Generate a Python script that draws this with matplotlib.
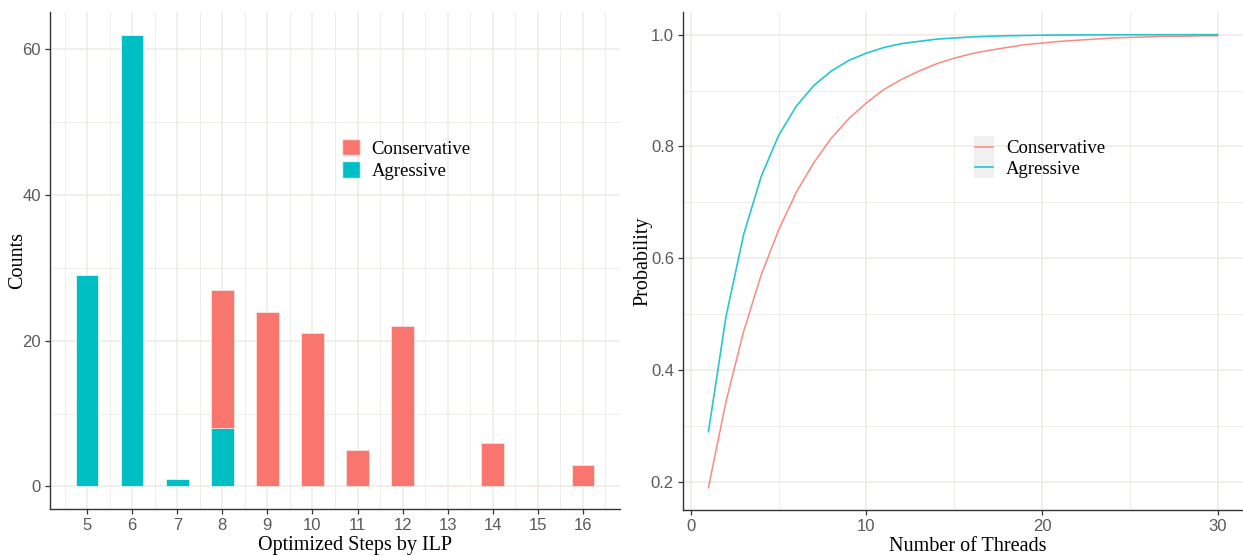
import matplotlib
matplotlib.use("Agg")
import matplotlib.pyplot as plt
from matplotlib.patches import Patch, Rectangle
from matplotlib.lines import Line2D
from matplotlib.legend_handler import HandlerLine2D
from matplotlib.ticker import MultipleLocator, FixedLocator, FormatStrFormatter

# ---- Data (left: bar counts) ----
steps = [5, 6, 7, 8, 9, 10, 11, 12, 13, 14, 15, 16]
agressive_counts = [29, 62, 1, 8, 0, 0, 0, 0, 0, 0, 0, 0]
conservative_counts = [0, 0, 0, 19, 24, 21, 5, 22, 0, 6, 0, 3]

# ---- Data (right: probability curves) ----
threads = list(range(1, 31))
prob_agressive = [0.290, 0.496, 0.642, 0.746, 0.820, 0.872, 0.909, 0.935, 0.954, 0.967,
                  0.977, 0.984, 0.988, 0.992, 0.994, 0.996, 0.997, 0.998, 0.9985, 0.999,
                  0.9993, 0.9995, 0.9996, 0.9997, 0.9998, 0.9999, 0.9999, 0.9999, 1.000, 1.000]
prob_conservative = [0.190, 0.344, 0.469, 0.570, 0.651, 0.718, 0.771, 0.815, 0.850, 0.878,
                     0.902, 0.920, 0.935, 0.948, 0.958, 0.966, 0.972, 0.977, 0.982, 0.985,
                     0.988, 0.990, 0.992, 0.994, 0.995, 0.996, 0.997, 0.997, 0.998, 0.998]

series_names = ["Conservative", "Agressive"]
c_cons = "#F8766D"
c_agr = "#00BFC4"

grid_c = "#EDEBE6"
tick_c = "#5A5A5A"
serif = ["Liberation Serif", "DejaVu Serif"]
sans = ["Liberation Sans", "DejaVu Sans"]

fig = plt.figure(figsize=(12.43, 5.56), dpi=100)
ax1 = fig.add_axes([50/1243, 47/556, 570/1243, 497/556])
ax2 = fig.add_axes([683/1243, 46/556, 560/1243, 498/556])


def style(ax):
    for s in ["top", "right"]:
        ax.spines[s].set_visible(False)
    for s in ["left", "bottom"]:
        ax.spines[s].set_color("#333333")
        ax.spines[s].set_linewidth(1.0)
    ax.set_axisbelow(True)
    ax.grid(which="major", color=grid_c, linewidth=1.1)
    ax.grid(which="minor", color=grid_c, linewidth=0.6)
    ax.tick_params(which="major", length=3.5, width=0.9, color="#333333",
                   labelcolor=tick_c, labelsize=12, pad=3)
    ax.tick_params(which="minor", length=0)
    for lab in ax.get_xticklabels() + ax.get_yticklabels():
        lab.set_fontfamily(sans)


class HandlerLineBox(HandlerLine2D):
    def create_artists(self, legend, orig_handle, xdescent, ydescent,
                       width, height, fontsize, trans):
        box = Rectangle((-xdescent - 1, -ydescent - 3), width + 2, height + 6,
                        facecolor="#F0F0F0", edgecolor="none", transform=trans)
        arts = super().create_artists(legend, orig_handle, xdescent, ydescent,
                                      width, height, fontsize, trans)
        return [box] + list(arts)


# ---- Left: stacked bars ----
w = 0.5
ax1.bar(steps, agressive_counts, width=w, color=c_agr, edgecolor="#E0F7F7", linewidth=0.6)
ax1.bar(steps, conservative_counts, width=w, bottom=agressive_counts, color=c_cons,
        edgecolor="#FDE3E1", linewidth=0.6)
ax1.set_xlim(4.175, 16.825)
ax1.set_ylim(-3.1, 65.1)
ax1.xaxis.set_major_locator(FixedLocator(steps))
ax1.xaxis.set_minor_locator(FixedLocator([s + 0.5 for s in [4] + steps]))
ax1.yaxis.set_major_locator(MultipleLocator(20))
ax1.yaxis.set_minor_locator(MultipleLocator(10))
style(ax1)
ax1.set_xlabel("Optimized Steps by ILP", fontfamily=serif, fontsize=14.5)
ax1.set_ylabel("Counts", fontfamily=serif, fontsize=14.5)
ax1.xaxis.set_label_coords(0.535, -0.054)
ax1.yaxis.set_label_coords(-0.041, 0.5)
handles1 = [Patch(facecolor=c_cons, edgecolor="#FDE3E1", label=series_names[0]),
            Patch(facecolor=c_agr, edgecolor="#E0F7F7", label=series_names[1])]
ax1.legend(handles=handles1, loc="center left", bbox_to_anchor=(0.2695, 0.713),
           bbox_transform=fig.transFigure,
           frameon=False, prop={"family": serif, "size": 13.5},
           handlelength=0.95, handleheight=0.95, handletextpad=0.6,
           labelspacing=0.2, borderaxespad=0)

# ---- Right: probability curves ----
ax2.plot(threads, prob_conservative, color=c_cons, linewidth=1.1, alpha=0.85,
         label=series_names[0])
ax2.plot(threads, prob_agressive, color=c_agr, linewidth=1.2, alpha=0.85,
         label=series_names[1])
ax2.set_xlim(-0.45, 31.45)
ax2.set_ylim(0.15, 1.0405)
ax2.xaxis.set_major_locator(MultipleLocator(10))
ax2.xaxis.set_minor_locator(MultipleLocator(5))
ax2.yaxis.set_major_locator(FixedLocator([0.2, 0.4, 0.6, 0.8, 1.0]))
ax2.yaxis.set_minor_locator(FixedLocator([0.3, 0.5, 0.7, 0.9]))
ax2.yaxis.set_major_formatter(FormatStrFormatter("%.1f"))
style(ax2)
ax2.set_xlabel("Number of Threads", fontfamily=serif, fontsize=14.5)
ax2.set_ylabel("Probability", fontfamily=serif, fontsize=14.5)
ax2.xaxis.set_label_coords(0.509, -0.054)
ax2.yaxis.set_label_coords(-0.055, 0.5)
leg2 = ax2.legend(loc="center left", bbox_to_anchor=(0.7785, 0.714),
                  bbox_transform=fig.transFigure,
                  frameon=False, prop={"family": serif, "size": 13.5},
                  handlelength=0.95, handletextpad=0.7,
                  labelspacing=0.2, borderaxespad=0,
                  handler_map={Line2D: HandlerLineBox()})
for h in leg2.legend_handles:
    h.set_linewidth(1.1)

fig.savefig("out.png", dpi=100, facecolor="white")
